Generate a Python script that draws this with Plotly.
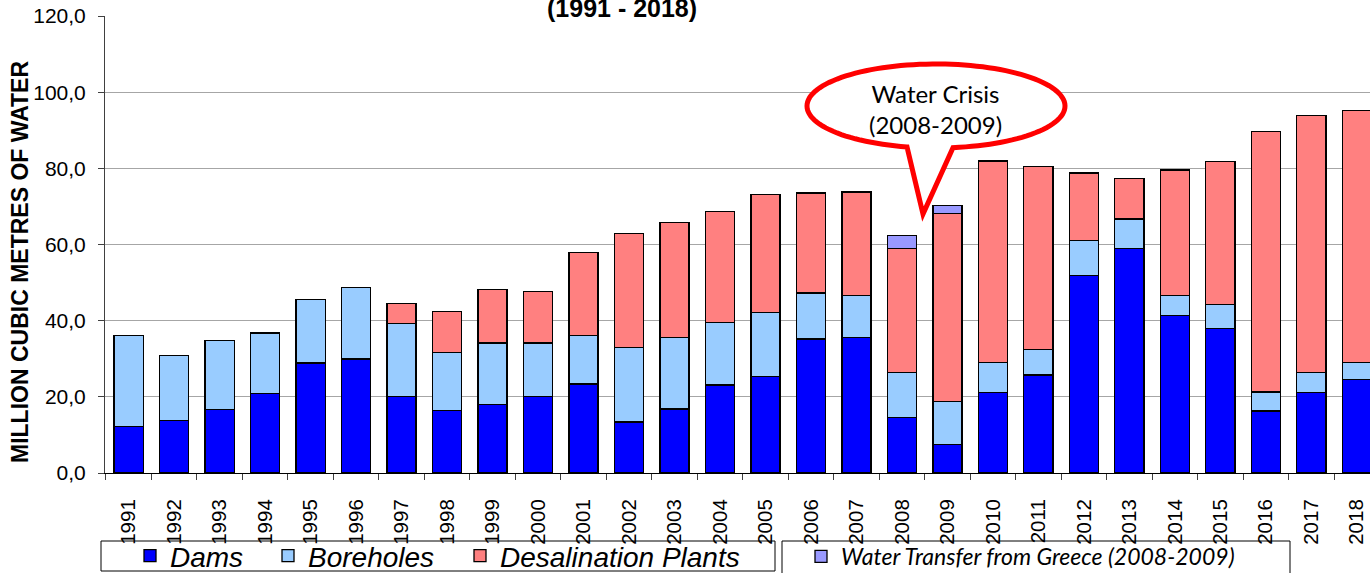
import numpy as np
import plotly.graph_objects as go

years = [str(y) for y in range(1991, 2019)]
dams = [12.2, 13.8, 16.6, 20.8, 28.9, 29.9, 20.0, 16.4, 17.9, 20.0, 23.4, 13.4, 16.8, 23.1,
        25.3, 35.2, 35.5, 14.6, 7.4, 21.2, 25.7, 51.8, 58.9, 41.4, 38.0, 16.3, 21.2, 24.6]
boreholes = [23.9, 17.1, 18.2, 16.0, 16.6, 18.9, 19.3, 15.3, 16.2, 14.1, 12.7, 19.6, 18.7, 16.5,
             16.8, 12.1, 11.2, 11.8, 11.3, 7.8, 6.8, 9.3, 7.8, 5.3, 6.3, 5.0, 5.1, 4.4]
desalination = [None, None, None, None, None, None, 5.3, 10.8, 14.0, 13.6, 21.8, 29.9, 30.2, 29.1,
                31.0, 26.2, 27.1, 32.6, 49.5, 52.9, 47.9, 17.7, 10.7, 32.9, 37.5, 68.3, 67.6, 66.2]
transfer = [None] * 17 + [3.3, 2.0] + [None] * 9

y_ticks = [0, 20, 40, 60, 80, 100, 120]

# plot-area pixel geometry
FW, FH = 1370, 573
L, R, T, B = 105, 1370, 16, 473
W, H = R - L, B - T
px = lambda p: (p - L) / W
py = lambda p: (B - p) / H
cx_ = lambda p: p / FW
cy_ = lambda p: (FH - p) / FH

fig = go.Figure()
line = dict(color="#000000", width=1.3)
fig.add_bar(x=years, y=dams, name="Dams", marker=dict(color="#0000FF", line=line), legend="legend")
fig.add_bar(x=years, y=boreholes, name="Boreholes", marker=dict(color="#99CCFF", line=line), legend="legend3")
fig.add_bar(x=years, y=desalination, name="Desalination Plants", marker=dict(color="#FF8080", line=line), legend="legend4")
fig.add_bar(x=years, y=transfer, name="Water Transfer from Greece (2008-2009)",
            marker=dict(color="#9999FF", line=line), legend="legend2")

# callout (ellipse + tail)
cx, cy, rx, ry = 936, 106, 129, 42
t0 = np.arccos((907 - cx) / rx)
t1 = np.arccos((953 - cx) / rx) + 2 * np.pi
ts = np.linspace(t0, t1, 120)
pts = [(cx + rx * np.cos(t), cy + ry * np.sin(t)) for t in ts]
pts.append((923, 214))
path = "M " + " L ".join(f"{px(a):.5f},{py(b):.5f}" for a, b in pts) + " Z"

shapes = [
    dict(type="path", xref="paper", yref="paper", path=path, fillcolor="white",
         line=dict(color="#FF0000", width=5), layer="above"),
    dict(type="rect", xref="paper", yref="paper", x0=px(101), x1=px(775), y0=py(541), y1=py(571),
         line=dict(color="#000000", width=1)),
    dict(type="rect", xref="paper", yref="paper", x0=px(782), x1=px(1290), y0=py(541), y1=py(578),
         line=dict(color="#000000", width=1)),
]

annotations = [
    dict(text="Water Crisis<br>(2008-2009)", xref="paper", yref="paper", x=px(935), y=py(109),
         xanchor="center", yanchor="middle", showarrow=False,
         font=dict(family="Lato", size=24, color="#000000")),
    dict(text="<b>(1991 - 2018)</b>", xref="paper", yref="paper", x=px(622), y=py(8),
         xanchor="center", yanchor="middle", showarrow=False,
         font=dict(family="Liberation Sans", size=25, color="#000000")),
    dict(text="<b>MILLION CUBIC METRES OF WATER</b>", xref="paper", yref="paper", x=px(20), y=py(262),
         xanchor="center", yanchor="middle", showarrow=False, textangle=-90,
         font=dict(family="Liberation Sans", size=23, color="#000000")),
]

leg_font = dict(family="Liberation Sans", size=28, style="italic", color="#000000")
leg_common = dict(orientation="h", xref="container", yref="container", xanchor="left", yanchor="top",
                  bgcolor="rgba(0,0,0,0)", borderwidth=0)

fig.update_layout(
    width=FW, height=FH,
    margin=dict(l=L, r=FW - R, t=T, b=FH - B, pad=0, autoexpand=False),
    barmode="stack", bargap=0.36,
    plot_bgcolor="white", paper_bgcolor="white",
    separators=",.",
    font=dict(family="Liberation Sans", color="#000000"),
    shapes=shapes, annotations=annotations,
    legend=dict(x=cx_(130), y=cy_(531), font=leg_font, **leg_common),
    legend3=dict(x=cx_(268), y=cy_(531), font=leg_font, **leg_common),
    legend4=dict(x=cx_(460), y=cy_(531), font=leg_font, **leg_common),
    legend2=dict(x=cx_(801), y=cy_(535), font=dict(family="Lato", size=23, style="italic", color="#000000"),
                 **leg_common),
    xaxis=dict(type="category", range=[-0.52, 27.29], tickson="boundaries", ticks="outside",
               ticklen=6, tickcolor="#404040", tickangle=-90, showline=True, linecolor="#000000",
               linewidth=1, tickfont=dict(family="Liberation Sans", size=20.5), showgrid=False,
               automargin=False, ticklabelstandoff=17),
    yaxis=dict(range=[0, 120], tickvals=y_ticks, tickformat=".1f", ticks="outside", ticklen=6,
               tickcolor="#404040", showline=True, linecolor="#404040", linewidth=1,
               showgrid=True, gridcolor="#A6A6A6", gridwidth=1.3, zeroline=False,
               tickfont=dict(family="Liberation Sans", size=21), automargin=False,
               ticklabelstandoff=8),
    showlegend=True,
)

fig.write_html("out.html", config={"displayModeBar": False},
               post_script="document.body.style.margin='0px';")
